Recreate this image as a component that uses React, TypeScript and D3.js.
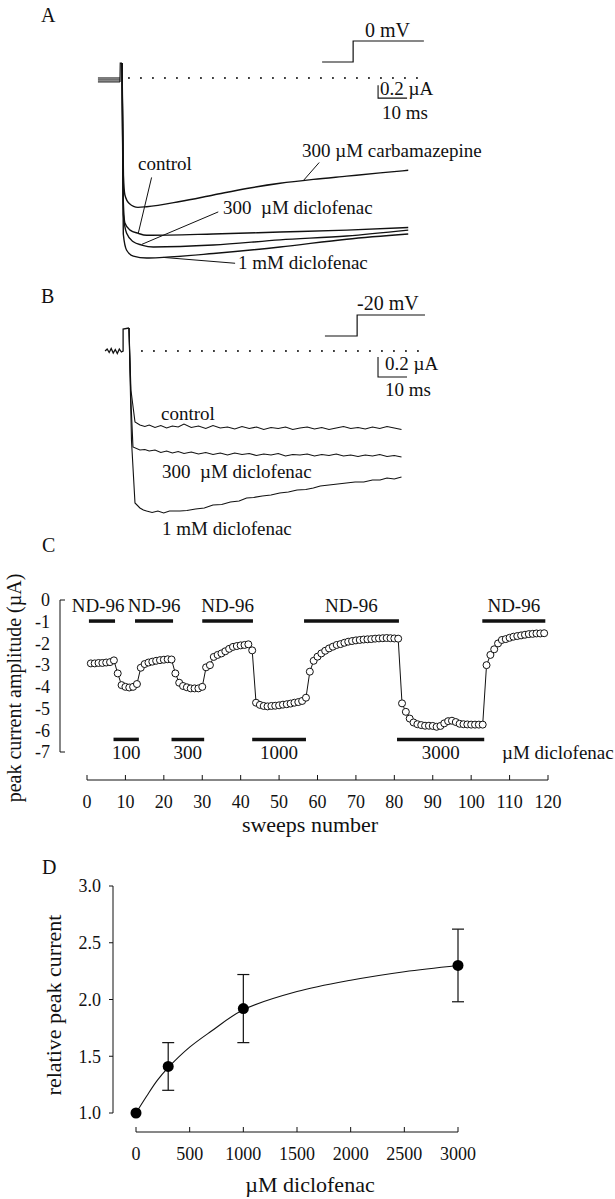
import React from "react";
import * as d3 from "d3";

const FONT = "'Liberation Serif', 'Times New Roman', Times, serif";

// ---------------- Panel A: traces (time in ms, current in µA) ----------------
const aStubLevels = [0, -0.03, -0.06];
const aStubT = [-8.3, -0.7];
const aSpikeT = [-0.7, -0.6, 0];
const aSpikeI = [-0.06, 0.23, 0.23];

const aCarbT = [0, 0.5, 1.0, 2.5, 5.5, 8.5, 20, 31.5, 43, 54.5, 66, 77.5, 89, 98.7];
const aCarbI = [0.23, -1.5, -1.8, -1.93, -1.99, -1.98, -1.9, -1.8, -1.7, -1.62, -1.56, -1.51, -1.46, -1.42];
const aCtrlT = [0, 0.45, 1.0, 2.8, 5.6, 8.5, 31.4, 54.5, 77.5, 98.7];
const aCtrlI = [0.23, -1.9, -2.23, -2.34, -2.39, -2.42, -2.4, -2.37, -2.34, -2.3];
const aD300T = [0, 0.45, 1.6, 3.9, 6.8, 10.8, 31.5, 54.5, 77.5, 98.7];
const aD300I = [0.23, -2.1, -2.39, -2.52, -2.57, -2.6, -2.57, -2.49, -2.43, -2.34];
const aD1mT = [0, 0.45, 1.6, 3.9, 8.5, 14.2, 31.5, 54.5, 77.5, 98.7];
const aD1mI = [0.23, -2.4, -2.65, -2.74, -2.77, -2.76, -2.7, -2.6, -2.48, -2.4];

const aStepT = [69, 79.7, 79.7, 104.1];
const aStepLvl = [0, 0, 1, 1];
const aDotsT = [2.4, 103.8];

// pointer lines [t0, I0, t1, I1]
const aPointers = [
  [68.0, -1.3, 62.5, -1.58],
  [10.2, -1.53, 5.6, -2.39],
  [33.2, -2.06, 6.8, -2.56],
  [39.0, -2.85, 14.2, -2.76],
];

// ---------------- Panel B ----------------
const bStubT = [-7.2, -6.5, -5.8, -5.1, -4.4, -3.7, -3.0, -2.3, -1.6, -1.0, -1.0, 1.03];
const bStubI = [0.0, 0.02, -0.015, 0.025, -0.02, 0.015, -0.025, 0.02, -0.01, 0.0, 0.22, 0.23];

const bCtrlT = [1.03, 1.7, 3.1, 4.8, 6.5, 8, 10, 12, 14, 16, 18, 20, 22.5, 25, 27.5, 30, 32.5, 35, 37.5, 40, 42.5, 45, 47.5, 50, 52.5, 55, 57.5, 60, 62.5, 65, 67.5, 70, 72.5, 75, 77.5, 80, 82.5, 85, 87.5, 90, 92.5, 95];
const bCtrlI = [0.23, -0.39, -0.71, -0.74, -0.755, -0.74, -0.765, -0.745, -0.77, -0.75, -0.76, -0.73, -0.765, -0.75, -0.775, -0.745, -0.77, -0.76, -0.78, -0.755, -0.775, -0.76, -0.785, -0.765, -0.775, -0.76, -0.785, -0.77, -0.76, -0.78, -0.765, -0.785, -0.77, -0.755, -0.775, -0.765, -0.78, -0.76, -0.775, -0.755, -0.77, -0.785];
const b300T = [1.03, 1.7, 2.4, 4.8, 6.5, 8, 10, 12, 14, 16, 18, 20, 22.5, 25, 27.5, 30, 32.5, 35, 37.5, 40, 42.5, 45, 47.5, 50, 52.5, 55, 57.5, 60, 62.5, 65, 67.5, 70, 72.5, 75, 77.5, 80, 82.5, 85, 87.5, 90, 92.5, 95];
const b300I = [0.23, -0.5, -0.96, -0.99, -0.985, -1.0, -0.99, -1.015, -1.0, -1.02, -1.005, -1.025, -1.01, -1.03, -1.015, -1.035, -1.02, -1.04, -1.02, -1.035, -1.025, -1.045, -1.03, -1.04, -1.025, -1.05, -1.035, -1.04, -1.03, -1.05, -1.035, -1.045, -1.03, -1.05, -1.04, -1.055, -1.04, -1.05, -1.035, -1.055, -1.045, -1.06];
const b1mT = [1.03, 1.9, 3.1, 4.8, 6, 7.1, 9, 11, 13, 15, 18.6, 21, 24, 27, 30, 33, 36, 39, 41.6, 44, 47, 50, 53, 56, 59, 62, 64.6, 67, 70, 73, 76, 79, 82, 85, 87.6, 90, 92.5, 95];
const b1mI = [0.23, -0.9, -1.52, -1.57, -1.59, -1.6, -1.615, -1.6, -1.62, -1.6, -1.6, -1.595, -1.58, -1.57, -1.54, -1.535, -1.51, -1.5, -1.47, -1.465, -1.45, -1.44, -1.42, -1.41, -1.39, -1.385, -1.37, -1.35, -1.34, -1.33, -1.32, -1.31, -1.31, -1.29, -1.29, -1.27, -1.28, -1.26];

const bStepT = [68.6, 79.7, 79.7, 103.1];
const bStepLvl = [0, 0, 1, 1];
const bDotsT = [5.5, 104.1];

// ---------------- Panel C: peak current vs sweep ----------------
const cSweeps = d3.range(1, 120);
const cValues = [
  -2.92, -2.92, -2.9, -2.9, -2.88, -2.86, -2.78,
  -3.38, -3.92, -4.0, -4.03, -4.0, -3.87,
  -3.12, -2.95, -2.88, -2.84, -2.8, -2.77, -2.75, -2.73, -2.74,
  -3.38, -3.81, -3.96, -4.02, -4.07, -4.07, -4.07, -4.0,
  -3.1, -3.0, -2.62, -2.53, -2.46, -2.36, -2.25, -2.16, -2.12, -2.09, -2.07, -2.04, -2.32,
  -4.73, -4.83, -4.88, -4.9, -4.88, -4.87, -4.85, -4.82, -4.8, -4.77, -4.73, -4.7, -4.65, -4.5,
  -3.3, -2.8, -2.61, -2.46, -2.34, -2.23, -2.15, -2.07, -2.03, -1.97, -1.92, -1.89, -1.86, -1.84, -1.82, -1.81, -1.8, -1.78, -1.77, -1.76, -1.75, -1.76, -1.77, -1.78,
  -4.76, -5.15, -5.46, -5.64, -5.72, -5.76, -5.79, -5.79, -5.8, -5.84, -5.8, -5.68, -5.58, -5.56, -5.62, -5.7, -5.72, -5.73, -5.74, -5.74, -5.74, -5.74,
  -3.0, -2.53, -2.27, -2.0, -1.84, -1.8, -1.74, -1.69, -1.66, -1.63, -1.6, -1.57, -1.56, -1.54, -1.54, -1.53,
];
const cYTicks = [0, -1, -2, -3, -4, -5, -6, -7];
const cXTicks = d3.range(0, 121, 10);
const ndBars = [[0.5, 7.3], [12.5, 22.4], [30, 43.2], [56.5, 81.2], [102.9, 119.3]];
const ndLabelAt = [2.9, 17.5, 36.6, 68.8, 111.1];
const ndLevel = -0.97;
const drugBars = [[6.9, 13.5], [22, 30.5], [43, 57], [80.7, 103.4]];
const drugLabels = ["100", "300", "1000", "3000"];
const drugLevel = -6.42;

// ---------------- Panel D: concentration-response ----------------
const dConc = [0, 300, 1000, 3000];
const dMean = [1.0, 1.41, 1.92, 2.3];
const dLow = [null, 1.2, 1.62, 1.98];
const dHigh = [null, 1.62, 2.22, 2.62];
const dFitConc = [0, 100, 200, 300, 500, 700, 1000, 1500, 2000, 2500, 3000];
const dFitVal = [1.0, 1.15, 1.29, 1.4, 1.58, 1.72, 1.91, 2.07, 2.17, 2.245, 2.3];
const dYTicks = [1.0, 1.5, 2.0, 2.5, 3.0];
const dXTicks = [0, 500, 1000, 1500, 2000, 2500, 3000];

// ---------------- scales ----------------
const xA = d3.scaleLinear().domain([0, 100]).range([122, 412]);
const yA = d3.scaleLinear().domain([0, -1]).range([78, 143]);
const yAStep = d3.scaleLinear().domain([0, 1]).range([62, 41]);

const xB = d3.scaleLinear().domain([0, 100]).range([126, 416]);
const yB = d3.scaleLinear().domain([0, -1]).range([351, 451]);
const yBStep = d3.scaleLinear().domain([0, 1]).range([336, 315]);

const xC = d3.scaleLinear().domain([0, 120]).range([87, 548]);
const yC = d3.scaleLinear().domain([0, -7]).range([600, 752]);

const xD = d3.scaleLinear().domain([0, 3000]).range([136, 458]);
const yD = d3.scaleLinear().domain([1, 3]).range([1113, 886]);

const zip = (a: number[], b: number[]) => a.map((v, i) => [v, b[i]] as [number, number]);

function tracePath(xs: any, ys: any, T: number[], I: number[], curve: any = d3.curveLinear) {
  return d3.line<[number, number]>().x((d) => xs(d[0])).y((d) => ys(d[1])).curve(curve)(zip(T, I)) || "";
}

const txt = (extra: any = {}) => ({ fontFamily: FONT, fill: "#111", ...extra });

export default function App() {
  const stroke = "#111";
  const lineAStep = tracePath(xA, yAStep, aStepT, aStepLvl);
  const lineBStep = tracePath(xB, yBStep, bStepT, bStepLvl);
  const cPts = zip(cSweeps, cValues);
  const cLine = d3.line<[number, number]>().x((d) => xC(d[0])).y((d) => yC(d[1]))(cPts) || "";
  const dFit = d3.line<[number, number]>().x((d) => xD(d[0])).y((d) => yD(d[1])).curve(d3.curveCatmullRom.alpha(0.5))(zip(dFitConc, dFitVal)) || "";

  return (
    <svg width={615} height={1199} style={{ position: "absolute", left: 0, top: 0, background: "#fff" }}>
      <rect x={0} y={0} width={615} height={1199} fill="#fff" />
      {/* ---------- Panel A ---------- */}
      <text x={41} y={22} fontSize={20} {...txt()}>A</text>
      <path d={lineAStep} fill="none" stroke={stroke} strokeWidth={1.2} />
      <text x={365} y={37} fontSize={20} {...txt()}>0 mV</text>
      <line x1={xA(aDotsT[0])} x2={xA(aDotsT[1])} y1={yA(0)} y2={yA(0)} stroke={stroke} strokeWidth={2} strokeDasharray="0 12" strokeLinecap="round" />
      {aStubLevels.map((lv, i) => (
        <path key={i} d={tracePath(xA, yA, aStubT, [lv, lv])} stroke={stroke} strokeWidth={1.1} fill="none" />
      ))}
      <path d={tracePath(xA, yA, aSpikeT, aSpikeI)} stroke={stroke} strokeWidth={1.2} fill="none" />
      {[[aCarbT, aCarbI], [aCtrlT, aCtrlI], [aD300T, aD300I], [aD1mT, aD1mI]].map(([T, I], i) => (
        <path key={i} d={tracePath(xA, yA, T as number[], I as number[], d3.curveMonotoneX)} stroke={stroke} strokeWidth={1.4} fill="none" />
      ))}
      {aPointers.map((p, i) => (
        <line key={i} x1={xA(p[0])} y1={yA(p[1])} x2={xA(p[2])} y2={yA(p[3])} stroke={stroke} strokeWidth={1} />
      ))}
      {/* scale bar A */}
      <path d={`M${xA(88.3)},${yA(-0.11)}V${yA(-0.31)}H${xA(98.3)}`} fill="none" stroke={stroke} strokeWidth={1.1} />
      <text x={380} y={95} fontSize={19} {...txt()}>0.2 µA</text>
      <text x={382} y={119} fontSize={19} {...txt()}>10 ms</text>
      <text x={302} y={157} fontSize={19} {...txt()}>300 µM carbamazepine</text>
      <text x={138} y={170} fontSize={19} {...txt()}>control</text>
      <text x={223} y={214} fontSize={19} {...txt()} style={{ whiteSpace: "pre" }}>{"300  µM diclofenac"}</text>
      <text x={238} y={269} fontSize={19} {...txt()}>1 mM diclofenac</text>

      {/* ---------- Panel B ---------- */}
      <text x={41} y={303} fontSize={20} {...txt()}>B</text>
      <path d={lineBStep} fill="none" stroke={stroke} strokeWidth={1.2} />
      <text x={357} y={310} fontSize={20} {...txt()}>-20 mV</text>
      <line x1={xB(bDotsT[0])} x2={xB(bDotsT[1])} y1={yB(0)} y2={yB(0)} stroke={stroke} strokeWidth={2} strokeDasharray="0 12" strokeLinecap="round" />
      <path d={tracePath(xB, yB, bStubT, bStubI)} stroke={stroke} strokeWidth={1.3} fill="none" />
      {[[bCtrlT, bCtrlI], [b300T, b300I], [b1mT, b1mI]].map(([T, I], i) => (
        <path key={i} d={tracePath(xB, yB, T as number[], I as number[])} stroke={stroke} strokeWidth={1.1} fill="none" />
      ))}
      <path d={`M${xB(86.9)},${yB(-0.06)}V${yB(-0.26)}H${xB(96.9)}`} fill="none" stroke={stroke} strokeWidth={1.1} />
      <text x={385} y={370} fontSize={19} {...txt()}>0.2 µA</text>
      <text x={385} y={396} fontSize={19} {...txt()}>10 ms</text>
      <text x={161} y={420} fontSize={19} {...txt()}>control</text>
      <text x={162} y={478} fontSize={19} {...txt()} style={{ whiteSpace: "pre" }}>{"300  µM diclofenac"}</text>
      <text x={162} y={535} fontSize={19} {...txt()}>1 mM diclofenac</text>

      {/* ---------- Panel C ---------- */}
      <text x={42} y={552} fontSize={20} {...txt()}>C</text>
      <path d={`M${65},${yC(0)}H60V${yC(-7)}H65`} fill="none" stroke={stroke} strokeWidth={1} />
      {cYTicks.map((t) => (
        <text key={t} x={50} y={yC(t)} dy="0.35em" textAnchor="end" fontSize={18} {...txt()}>{t}</text>
      ))}
      <text transform={`translate(21,688) rotate(-90)`} textAnchor="middle" fontSize={20} {...txt()}>peak current amplitude (µA)</text>
      {ndBars.map((b, i) => (
        <line key={i} x1={xC(b[0])} x2={xC(b[1])} y1={yC(ndLevel)} y2={yC(ndLevel)} stroke={stroke} strokeWidth={3.5} />
      ))}
      {ndLabelAt.map((s, i) => (
        <text key={i} x={xC(s)} y={612} textAnchor="middle" fontSize={19} {...txt()}>ND-96</text>
      ))}
      {drugBars.map((b, i) => (
        <line key={i} x1={xC(b[0])} x2={xC(b[1])} y1={yC(drugLevel)} y2={yC(drugLevel)} stroke={stroke} strokeWidth={3.5} />
      ))}
      {drugBars.map((b, i) => (
        <text key={i} x={xC((b[0] + b[1]) / 2)} y={759} textAnchor="middle" fontSize={19} {...txt()}>{drugLabels[i]}</text>
      ))}
      <text x={502} y={759} fontSize={19} {...txt()}>µM diclofenac</text>
      <path d={cLine} fill="none" stroke={stroke} strokeWidth={1} />
      {cPts.map((d, i) => (
        <circle key={i} cx={xC(d[0])} cy={yC(d[1])} r={3.5} fill="#fff" stroke={stroke} strokeWidth={1} />
      ))}
      <line x1={xC(0)} x2={xC(120)} y1={780} y2={780} stroke={stroke} strokeWidth={1} />
      {cXTicks.map((t) => (
        <g key={t}>
          <line x1={xC(t)} x2={xC(t)} y1={780} y2={775} stroke={stroke} strokeWidth={1} />
          <text x={xC(t)} y={808} textAnchor="middle" fontSize={18} {...txt()}>{t}</text>
        </g>
      ))}
      <text x={310} y={832} textAnchor="middle" fontSize={22} {...txt()}>sweeps number</text>

      {/* ---------- Panel D ---------- */}
      <text x={42} y={874} fontSize={20} {...txt()}>D</text>
      <line x1={113} x2={113} y1={yD(3)} y2={yD(1)} stroke={stroke} strokeWidth={1} />
      {dYTicks.map((t) => (
        <g key={t}>
          <line x1={109} x2={113} y1={yD(t)} y2={yD(t)} stroke={stroke} strokeWidth={1} />
          <text x={101} y={yD(t)} dy="0.35em" textAnchor="end" fontSize={18} {...txt()}>{d3.format(".1f")(t)}</text>
        </g>
      ))}
      <text transform={`translate(61,1005) rotate(-90)`} textAnchor="middle" fontSize={22} {...txt()}>relative peak current</text>
      <line x1={xD(0)} x2={xD(3000)} y1={1132} y2={1132} stroke={stroke} strokeWidth={1} />
      {dXTicks.map((t) => (
        <g key={t}>
          <line x1={xD(t)} x2={xD(t)} y1={1132} y2={1127} stroke={stroke} strokeWidth={1} />
          <text x={xD(t)} y={1160} textAnchor="middle" fontSize={18} {...txt()}>{t}</text>
        </g>
      ))}
      <text x={310} y={1192} textAnchor="middle" fontSize={22} {...txt()}>µM diclofenac</text>
      <path d={dFit} fill="none" stroke={stroke} strokeWidth={1.1} />
      {dConc.map((c, i) =>
        dLow[i] == null ? null : (
          <g key={i}>
            <line x1={xD(c)} x2={xD(c)} y1={yD(dLow[i] as number)} y2={yD(dHigh[i] as number)} stroke={stroke} strokeWidth={1.2} />
            <line x1={xD(c) - 6} x2={xD(c) + 6} y1={yD(dLow[i] as number)} y2={yD(dLow[i] as number)} stroke={stroke} strokeWidth={1.2} />
            <line x1={xD(c) - 6} x2={xD(c) + 6} y1={yD(dHigh[i] as number)} y2={yD(dHigh[i] as number)} stroke={stroke} strokeWidth={1.2} />
          </g>
        )
      )}
      {dConc.map((c, i) => (
        <circle key={i} cx={xD(c)} cy={yD(dMean[i])} r={5.5} fill="#000" />
      ))}
    </svg>
  );
}
